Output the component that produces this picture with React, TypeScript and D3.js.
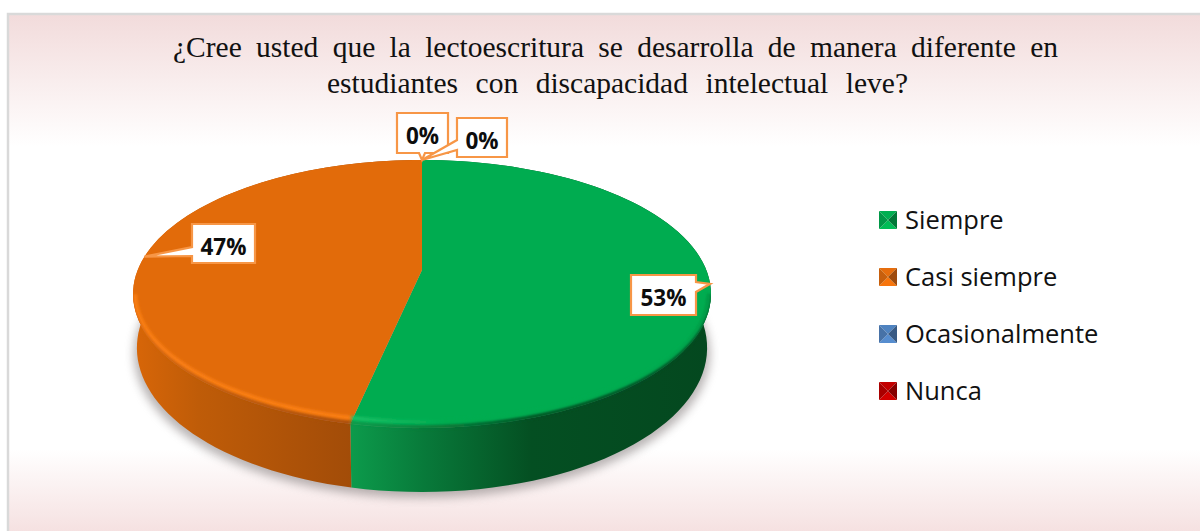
import React from "react";
import * as d3 from "d3";

const categories = ["Siempre", "Casi siempre", "Ocasionalmente", "Nunca"];
const counts = [8, 7, 0, 0];
const sliceColors = ["#00ac50", "#e26b0a", "#4f81bd", "#c00000"];
const titleLines = [
  "¿Cree usted que la lectoescritura se desarrolla de manera diferente en",
  "estudiantes con discapacidad intelectual leve?",
];

const width = 1200, height = 531;
const center = { x: 422, y: 270 };
const top = { a: 284.3, b: 129.7 };
const bottom = { a: 280.5, b: 139.6, drop: 52 };
const tilt = -0.179;

// circle -> screen, with a small perspective so the near half looks bigger
const project = (angle, ring) => {
  const u = Math.sin(angle), v = -Math.cos(angle), w = 1 + tilt * v;
  return [center.x + ring.a * u / w, center.y + (ring.drop || 0) + ring.b * v / w];
};
const arcPoints = (a0, a1, ring) =>
  d3.range(0, 81).map(i => project(a0 + (a1 - a0) * i / 80, ring));

const addGradient = (defs, id, stops, x1, x2) => {
  const g = defs.append("linearGradient").attr("id", id).attr("gradientUnits", "userSpaceOnUse")
    .attr("x1", x1).attr("x2", x2).attr("y1", 0).attr("y2", 0);
  stops.forEach(s => g.append("stop").attr("offset", s[0]).attr("stop-color", s[1]));
};

const addBlur = (defs, id, amount) =>
  defs.append("filter").attr("id", id).attr("x", "-20%").attr("y", "-30%").attr("width", "140%").attr("height", "160%")
    .append("feGaussianBlur").attr("stdDeviation", amount);

const appendBackground = (svg, defs) => {
  const bg = defs.append("linearGradient").attr("id", "bg").attr("x1", 0).attr("x2", 0).attr("y1", 0).attr("y2", 1);
  [[0, "#f2dbdb"], [0.25, "#ffffff"], [0.82, "#ffffff"], [1, "#f4dcdc"]]
    .forEach(s => bg.append("stop").attr("offset", s[0]).attr("stop-color", s[1]));
  svg.append("rect").attr("x", 8).attr("y", 14).attr("width", width).attr("height", height)
    .attr("fill", "url(#bg)").attr("stroke", "#d9d9d9").attr("stroke-width", 2.5);
};

const titleRows = [{ x: 173, y: 57, w: 885 }, { x: 327, y: 93, w: 581 }];

const appendTitle = svg => {
  titleLines.forEach((row, i) => {
    const t = svg.append("text").attr("x", titleRows[i].x).attr("y", titleRows[i].y)
      .attr("font-family", "Liberation Serif").attr("font-size", 29.5).attr("fill", "#111").text(row);
    // the original title has wide gaps: spread the spare width over the spaces
    const spare = titleRows[i].w - t.node().getComputedTextLength();
    t.attr("word-spacing", spare / (row.split(" ").length - 1));
  });
};

const appendPie = (svg, defs) => {
  const slices = d3.pie().sort(null).value(d => d)(counts);
  const line = d3.line();

  addBlur(defs, "soft", 1.4);
  addBlur(defs, "shadow", 5);
  addGradient(defs, "wall0", [[0, "#0c9a4b"], [0.2, "#087a3a"], [0.5, "#044f22"], [1, "#04481f"]], 352, 711);
  addGradient(defs, "wall1", [[0, "#d86608"], [0.3, "#bf5c08"], [1, "#a24c08"]], 133, 352);
  addGradient(defs, "rim0", [[0, "#1fc46a"], [0.45, "#00ac50"], [1, "#00ac50"]], 352, 560);
  addGradient(defs, "rim1", [[0, "#ff8213"], [1, "#ff8213"]], 133, 352);

  // shadow under the disc
  svg.append("path").attr("d", line(arcPoints(0, 2 * Math.PI, { ...bottom, a: bottom.a + 3, drop: bottom.drop + 6 })) + "Z")
    .attr("fill", "#807878").attr("opacity", 0.55).attr("filter", "url(#shadow)");

  const visible = slices.filter(s => s.value > 0);
  // side walls first, top face over them
  visible.forEach(s => {
    const pts = arcPoints(s.startAngle, s.endAngle, top).concat(arcPoints(s.startAngle, s.endAngle, bottom).reverse());
    svg.append("path").attr("d", line(pts) + "Z").attr("fill", `url(#wall${s.index})`);
  });
  visible.forEach(s => {
    const pts = arcPoints(s.startAngle, s.endAngle, top).concat([[center.x, center.y]]);
    svg.append("path").attr("d", line(pts) + "Z").attr("fill", sliceColors[s.index]);
  });

  // soft edge between face and wall, then the bevel highlight just inside it
  const outline = defs.append("clipPath").attr("id", "outline");
  outline.append("path").attr("d", line(arcPoints(0, 2 * Math.PI, top)) + "Z");
  outline.append("path").attr("d", line(arcPoints(0, 2 * Math.PI, bottom)) + "Z");
  const bevel = svg.append("g").attr("clip-path", "url(#outline)");
  visible.forEach(s => {
    const a0 = Math.max(s.startAngle, Math.PI * 0.56), a1 = Math.min(s.endAngle, Math.PI * 1.44);
    bevel.append("path").attr("d", line(arcPoints(a0, a1, { a: top.a - 1, b: top.b - 1 }))).attr("fill", "none")
      .attr("stroke", `url(#wall${s.index})`).attr("stroke-width", 4).attr("filter", "url(#soft)");
    bevel.append("path").attr("d", line(arcPoints(a0, a1, { a: top.a - 2, b: top.b - 5 }))).attr("fill", "none")
      .attr("stroke", `url(#rim${s.index})`).attr("stroke-width", 3.5).attr("filter", "url(#soft)");
  });
  return slices;
};

// box of each data label, in the order of the slices; from/to say where the pointer leaves the box
const labelBoxes = [
  { x: 631, y: 275, w: 65, h: 40, side: "right", from: 7, to: 17 },
  { x: 192, y: 224, w: 63, h: 39, side: "left", from: 23, to: 32 },
  { x: 397, y: 113, w: 51, h: 40, side: "bottom", from: 22, to: 28 },
  { x: 457, y: 118, w: 50, h: 39, side: "left", from: 22, to: 32 },
];

const appendLabels = (svg, slices) => {
  const total = d3.sum(counts);
  slices.forEach((s, i) => {
    const box = labelBoxes[i];
    const tip = project((s.startAngle + s.endAngle) / 2, top);
    const { x, y, w, h, from, to } = box;
    const corners = {
      right: [[x, y], [x + w, y], [x + w, y + from], tip, [x + w, y + to], [x + w, y + h], [x, y + h]],
      left: [[x, y], [x + w, y], [x + w, y + h], [x, y + h], [x, y + to], tip, [x, y + from]],
      bottom: [[x, y], [x + w, y], [x + w, y + h], [x + to, y + h], tip, [x + from, y + h], [x, y + h]],
    }[box.side];
    svg.append("path").attr("d", d3.line()(corners) + "Z").attr("fill", "#fff")
      .attr("stroke", "#f79646").attr("stroke-width", 2.2);
    svg.append("text").attr("x", x + w / 2).attr("y", y + 30.5).attr("text-anchor", "middle")
      .attr("font-family", "Open Sans").attr("font-weight", 700).attr("font-size", 22.5).attr("fill", "#0d0d0d")
      .text(d3.format(".0%")(s.value / total));
  });
};

const appendLegend = (svg, defs) => {
  addBlur(defs, "marker", 0.45);
  const yScale = d3.scalePoint(categories, [220, 391]);
  const size = 18, left = 879;
  categories.forEach((name, i) => {
    const y = yScale(name), c = d3.color(sliceColors[i]);
    const x0 = left, x1 = left + size, y0 = y - size / 2, y1 = y + size / 2, mx = left + size / 2;
    const marker = svg.append("g").attr("filter", "url(#marker)");
    const tri = (pts, fill) => marker.append("path").attr("d", d3.line()(pts) + "Z").attr("fill", fill);
    tri([[x0, y0], [x1, y0], [mx, y]], c.brighter(0.05));
    tri([[x0, y1], [x1, y1], [mx, y]], c.brighter(0.25));
    tri([[x0, y0], [x0, y1], [mx, y]], c.darker(0.35));
    tri([[x1, y0], [x1, y1], [mx, y]], c.darker(1));
    svg.append("text").attr("x", 905).attr("y", y + 9).attr("font-family", "Open Sans").attr("font-size", 25.5)
      .attr("fill", "#111").text(name);
  });
};

const App = () => {
  const ref = React.useRef();

  React.useEffect(() => {
    const svg = d3.select(ref.current);
    svg.selectAll("*").remove();
    const defs = svg.append("defs");
    appendBackground(svg, defs);
    appendTitle(svg);
    const slices = appendPie(svg, defs);
    appendLabels(svg, slices);
    appendLegend(svg, defs);
  }, []);

  return <svg ref={ref} width={width} height={height} style={{ position: "absolute", left: 0, top: 0, background: "#fff" }} />;
};

export default App;
